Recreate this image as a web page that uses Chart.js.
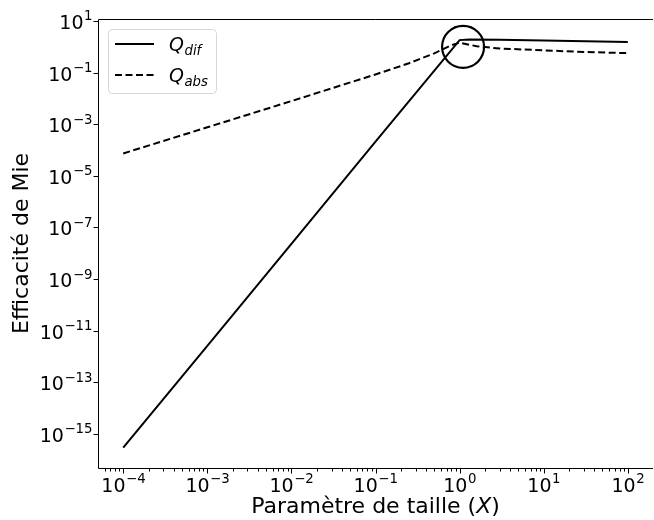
<!DOCTYPE html>
<html>
<head>
<meta charset="utf-8">
<script src="https://cdn.jsdelivr.net/npm/chart.js@4/dist/chart.umd.min.js"></script>
<style>
  html, body { margin: 0; padding: 0; background: #fff; }
  canvas { display: block; }
</style>
</head>
<body>
<canvas id="mieChart" width="654" height="520"></canvas>
<script>
"use strict";
// size parameter X and Mie efficiencies
const xDif = [1e-4, 1e-3, 1e-2, 1e-1, 1, 1.3, 3, 10, 100];
const qDif = [2.95e-16, 2.6e-12, 2.3e-8, 2.1e-4, 1.82, 1.94, 1.88, 1.74, 1.53];
const xAbs = [1e-4, 1e-3, 1e-2, 1e-1, 0.25, 0.5, 0.8, 1, 1.6, 3, 10, 30, 100];
const qAbs = [7.4e-5, 7.6e-4, 7.9e-3, 0.085, 0.23, 0.56, 1.15, 1.45, 1.05, 0.86, 0.73, 0.63, 0.57];
// highlighted region around the resonance
const ringX = [1.1];
const ringY = [1.0];

const xMajorExp = [-4, -3, -2, -1, 0, 1, 2];
const yMajorExp = [-15, -13, -11, -9, -7, -5, -3, -1, 1];

const FONT = '"DejaVu Sans", sans-serif';
const TICK = 19;
const SUP = 13.3;

function toPoints(xs, ys) {
    return xs.map((x, i) => ({ x, y: ys[i] }));
}

// "10" with a raised exponent, like mathtext
function drawPow(ctx, exp, x, y, align) {
    const base = '10';
    const sup = exp < 0 ? '\u2212' + (-exp) : String(exp);
    ctx.font = `${TICK}px ${FONT}`;
    const wb = ctx.measureText(base).width;
    ctx.font = `${SUP}px ${FONT}`;
    const ws = ctx.measureText(sup).width;
    const left = align === 'center' ? x - (wb + ws) / 2 : x - (wb + ws);
    ctx.textAlign = 'left';
    ctx.textBaseline = 'alphabetic';
    ctx.font = `${TICK}px ${FONT}`;
    ctx.fillText(base, left, y);
    ctx.font = `${SUP}px ${FONT}`;
    ctx.fillText(sup, left + wb + 0.5, y - TICK * 0.45);
}

function drawQ(ctx, sub, x, y) {
    ctx.textAlign = 'left';
    ctx.textBaseline = 'alphabetic';
    ctx.font = `italic ${TICK}px ${FONT}`;
    ctx.fillText('Q', x, y);
    const w = ctx.measureText('Q').width;
    ctx.font = `italic ${SUP}px ${FONT}`;
    ctx.fillText(sub, x + w + 0.5, y + 4);
}

const axesPlugin = {
    id: 'axesPlugin',
    afterDraw(chart) {
        const { ctx, chartArea: a, scales: { x, y } } = chart;
        ctx.save();
        ctx.strokeStyle = '#000';
        ctx.fillStyle = '#000';
        ctx.lineWidth = 1;

        // spines (the right one falls off the canvas)
        ctx.beginPath();
        ctx.moveTo(a.left + 0.5, a.bottom + 0.5);
        ctx.lineTo(a.left + 0.5, a.top + 0.5);
        ctx.lineTo(a.right, a.top + 0.5);
        ctx.moveTo(a.left + 0.5, a.bottom + 0.5);
        ctx.lineTo(a.right, a.bottom + 0.5);
        ctx.stroke();

        // x ticks, major + minor
        ctx.beginPath();
        for (let e = -5; e <= 2; e++) {
            for (let m = 1; m <= 9; m++) {
                const v = m * Math.pow(10, e);
                if (v < x.min || v > x.max) continue;
                const px = Math.round(x.getPixelForValue(v)) + 0.5;
                const len = m === 1 ? 5 : 3;
                ctx.moveTo(px, a.bottom + 0.5);
                ctx.lineTo(px, a.bottom + 0.5 + len);
            }
        }
        // y ticks
        yMajorExp.forEach(e => {
            const py = Math.round(y.getPixelForValue(Math.pow(10, e))) + 0.5;
            ctx.moveTo(a.left + 0.5, py);
            ctx.lineTo(a.left + 0.5 - 5, py);
        });
        ctx.stroke();

        xMajorExp.forEach(e => {
            drawPow(ctx, e, x.getPixelForValue(Math.pow(10, e)), a.bottom + 24, 'center');
        });
        yMajorExp.forEach(e => {
            drawPow(ctx, e, a.left - 6, y.getPixelForValue(Math.pow(10, e)) + 8, 'right');
        });

        // axis titles
        ctx.font = `22px ${FONT}`;
        ctx.textAlign = 'left';
        ctx.textBaseline = 'alphabetic';
        const t1 = 'Paramètre de taille (';
        const t2 = 'X';
        const t3 = ')';
        const w1 = ctx.measureText(t1).width;
        const w3 = ctx.measureText(t3).width;
        ctx.font = `italic 22px ${FONT}`;
        const w2 = ctx.measureText(t2).width;
        const tx = (a.left + a.right) / 2 - (w1 + w2 + w3) / 2;
        const ty = 513;
        ctx.font = `22px ${FONT}`;
        ctx.fillText(t1, tx, ty);
        ctx.font = `italic 22px ${FONT}`;
        ctx.fillText(t2, tx + w1, ty);
        ctx.font = `22px ${FONT}`;
        ctx.fillText(t3, tx + w1 + w2, ty);

        ctx.save();
        ctx.translate(22, (a.top + a.bottom) / 2);
        ctx.rotate(-Math.PI / 2);
        ctx.textAlign = 'center';
        ctx.textBaseline = 'middle';
        ctx.fillText('Efficacité de Mie', 0, 0);
        ctx.restore();

        // legend box
        ctx.beginPath();
        ctx.roundRect(108.5, 29.5, 108, 64, 4);
        ctx.fillStyle = 'rgba(255,255,255,0.8)';
        ctx.fill();
        ctx.strokeStyle = '#d6d6d6';
        ctx.stroke();

        ctx.strokeStyle = '#000';
        ctx.lineWidth = 2;
        ctx.beginPath();
        ctx.moveTo(115, 44);
        ctx.lineTo(154, 44);
        ctx.stroke();
        ctx.setLineDash([7, 3.5]);
        ctx.beginPath();
        ctx.moveTo(115, 75);
        ctx.lineTo(154, 75);
        ctx.stroke();
        ctx.setLineDash([]);

        ctx.fillStyle = '#000';
        drawQ(ctx, 'dif', 169, 51);
        drawQ(ctx, 'abs', 169, 82);
        ctx.restore();
    }
};

const ctx = document.getElementById('mieChart').getContext('2d');
new Chart(ctx, {
    type: 'line',
    data: {
        datasets: [
            {
                label: 'Q_dif',
                data: toPoints(xDif, qDif),
                borderColor: '#000',
                borderWidth: 2,
                pointRadius: 0,
                tension: 0
            },
            {
                label: 'Q_abs',
                data: toPoints(xAbs, qAbs),
                borderColor: '#000',
                borderWidth: 2,
                borderDash: [7, 3.5],
                pointRadius: 0,
                tension: 0
            },
            {
                label: 'ring',
                data: toPoints(ringX, ringY),
                showLine: false,
                pointRadius: 21,
                pointBorderWidth: 2.2,
                pointBorderColor: '#000',
                pointBackgroundColor: 'rgba(0,0,0,0)'
            }
        ]
    },
    options: {
        responsive: false,
        animation: false,
        devicePixelRatio: 1,
        layout: { autoPadding: false, padding: { left: 98, top: 19, right: 1, bottom: 52 } },
        plugins: {
            legend: { display: false },
            tooltip: { enabled: false }
        },
        scales: {
            x: {
                type: 'logarithmic',
                display: false,
                min: Math.pow(10, -4.3),
                max: Math.pow(10, 2.3)
            },
            y: {
                type: 'logarithmic',
                display: false,
                min: Math.pow(10, -16.32),
                max: Math.pow(10, 1.078)
            }
        }
    },
    plugins: [axesPlugin]
});
</script>
</body>
</html>
